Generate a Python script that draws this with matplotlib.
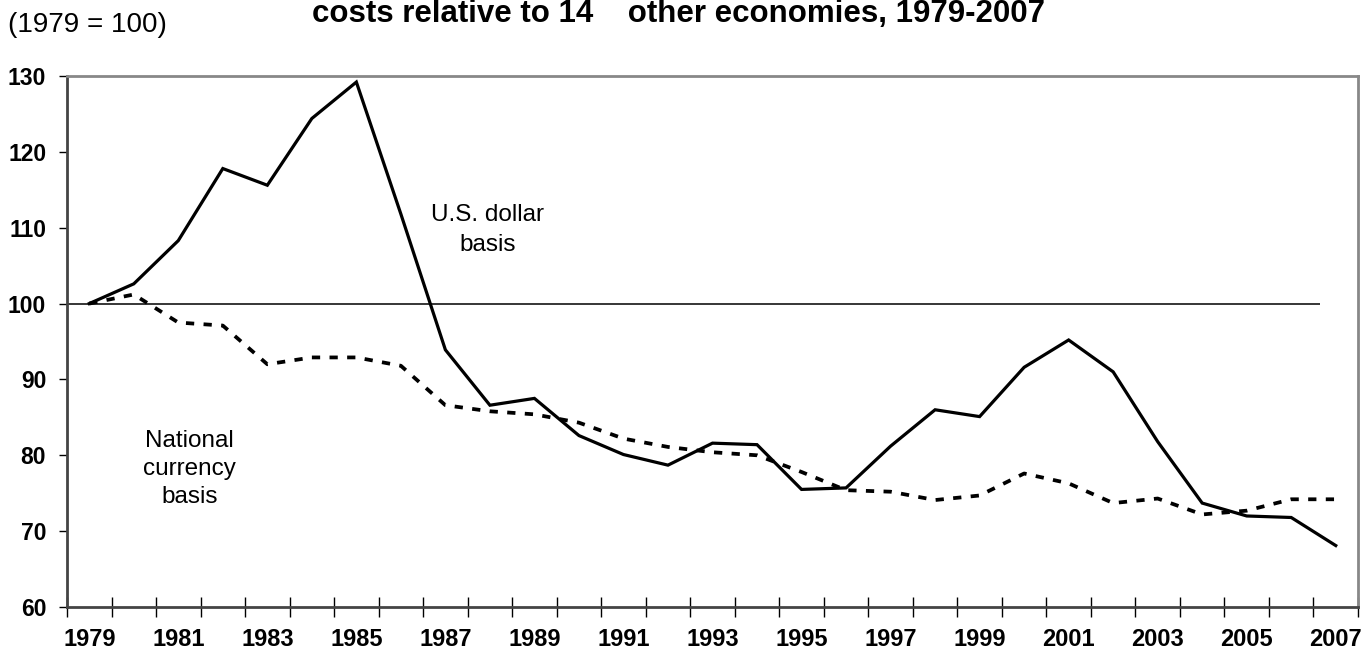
import numpy as np
import matplotlib.pyplot as plt

plt.rcParams['font.family'] = 'Liberation Sans'

years = list(range(1979, 2008))
usd_basis = [100, 102.6, 108.3, 117.8, 115.6, 124.4, 129.2, 111.8, 93.9, 86.6,
             87.5, 82.6, 80.1, 78.7, 81.6, 81.4, 75.5, 75.7, 81.2, 86.0,
             85.1, 91.6, 95.2, 91.0, 81.8, 73.7, 72.0, 71.8, 68.1]
national_basis = [100, 101.2, 97.5, 97.1, 92.0, 92.9, 92.9, 91.8, 86.6, 85.8,
                  85.4, 84.3, 82.2, 81.1, 80.4, 80.0, 77.8, 75.4, 75.2, 74.1,
                  74.7, 77.6, 76.3, 73.7, 74.3, 72.2, 72.7, 74.2, 74.2]
year_labels = [str(y) for y in years[::2]]

x = np.arange(len(years))

fig = plt.figure(figsize=(13.64, 6.56), dpi=100)
ax = fig.add_axes([67/1364, 1 - 607/656, (1358 - 67)/1364, (607 - 76)/656])

ax.hlines(100, -0.5, 27.65, color='black', lw=1.1)
ax.plot(x, usd_basis, color='black', lw=2.3, solid_joinstyle='miter')
ax.plot(x, national_basis, color='black', lw=2.7, dashes=(2.2, 2.5))

ax.set_xlim(-0.5, 28.5)
ax.set_ylim(60, 130)
ax.set_yticks(range(60, 131, 10))
ax.set_yticklabels([str(v) for v in range(60, 131, 10)], fontsize=16.5, fontweight='bold')
ax.tick_params(axis='y', length=6, width=1, direction='out', pad=9)

ax.set_xticks(x[::2])
ax.set_xticklabels(year_labels, fontsize=17, fontweight='bold')
ax.set_xticks(np.arange(-0.5, 29, 1), minor=True)
ax.tick_params(axis='x', which='major', length=0, pad=15)
ax.tick_params(axis='x', which='minor', length=14, width=1, direction='inout')

for side in ['top', 'right']:
    ax.spines[side].set_color('#888888')
    ax.spines[side].set_linewidth(2)
for side in ['left', 'bottom']:
    ax.spines[side].set_color('#444444')
    ax.spines[side].set_linewidth(2)

ax.text(8.95, 109.7, 'U.S. dollar\nbasis', ha='center', va='center', fontsize=17.5, linespacing=1.42)
ax.text(2.26, 78.2, 'National\ncurrency\nbasis', ha='center', va='center', fontsize=17.5, linespacing=1.36)

fig.text(8/1364, 1 - 25/656, '(1979 = 100)', ha='left', va='center', fontsize=20)
# title: only its second line fits in the picture
fig.text(678/1364, 1 - 22/656, 'costs relative to 14    other economies, 1979-2007',
         ha='center', va='baseline', fontsize=22.5, fontweight='bold')

fig.savefig('out.png', dpi=100)
